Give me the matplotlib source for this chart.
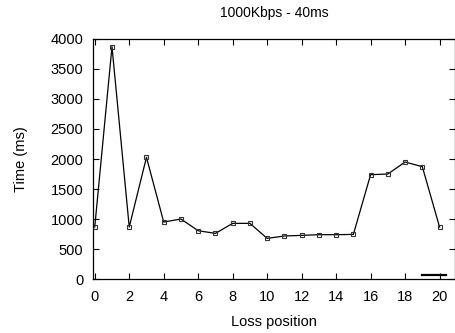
import matplotlib
matplotlib.use("Agg")
import matplotlib.pyplot as plt
from matplotlib.lines import Line2D

plt.rcParams['font.family'] = ['Liberation Sans', 'DejaVu Sans']

# loss position vs. completion time
loss_pos = list(range(21))
time_ms = [867, 3872, 867, 2028, 950, 1000, 805, 761, 928, 928,
           678, 717, 728, 739, 739, 744, 1739, 1750, 1950, 1872, 867]
x_ticks = list(range(0, 21, 2))
y_ticks = list(range(0, 4001, 500))

fig = plt.figure(figsize=(4.56, 3.33), dpi=100)
ax = fig.add_axes([0.204, 0.162, 0.794, 0.721])

ax.plot(loss_pos, time_ms, color='black', lw=0.9, marker='s', markersize=3.5,
        markerfacecolor='none', markeredgecolor='#333333', markeredgewidth=0.8)

# empty key sample, gnuplot style
ax.add_line(Line2D([0.909, 0.975], [0.018, 0.018], transform=ax.transAxes,
                   color='black', lw=1.6))

ax.set_xlim(-0.1, 20.9)
ax.set_ylim(0, 4000)
ax.set_xticks(x_ticks)
ax.set_yticks(y_ticks)
ax.tick_params(direction='in', top=True, right=True, length=4, width=0.8,
               labelsize=10.5)
ax.tick_params(axis='x', pad=8)
ax.tick_params(axis='y', pad=7)
for s in ax.spines.values():
    s.set_linewidth(0.9)

ax.set_title('1000Kbps - 40ms', fontsize=10, pad=16)
ax.set_xlabel('Loss position', fontsize=10.5, labelpad=8)
ax.set_ylabel('Time (ms)', fontsize=10.5, labelpad=16)

fig.savefig('out.png', dpi=100)
